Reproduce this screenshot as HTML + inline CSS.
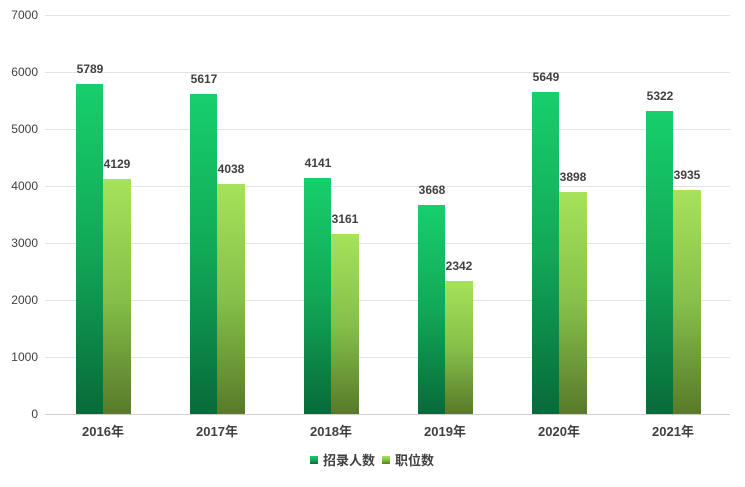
<!DOCTYPE html>
<html><head><meta charset="utf-8"><style>
body{margin:0;background:#fff;}
svg text{font-family:"Liberation Sans","Noto Sans CJK SC",sans-serif;fill:#404040;}
</style></head><body>
<svg width="745" height="482" viewBox="0 0 745 482" xmlns="http://www.w3.org/2000/svg">
<defs>
<linearGradient id="g1" x1="0" y1="0" x2="0" y2="1"><stop offset="0" stop-color="#17cf6c"/><stop offset="0.5" stop-color="#12a857"/><stop offset="1" stop-color="#086a3a"/></linearGradient>
<linearGradient id="g2" x1="0" y1="0" x2="0" y2="1"><stop offset="0" stop-color="#a6e25a"/><stop offset="0.5" stop-color="#86c04a"/><stop offset="1" stop-color="#587a2a"/></linearGradient>
</defs>
<g stroke="#e3e3e3" stroke-width="1">
<line x1="45" y1="15.5" x2="730" y2="15.5"/><line x1="45" y1="72.5" x2="730" y2="72.5"/><line x1="45" y1="129.5" x2="730" y2="129.5"/><line x1="45" y1="186.5" x2="730" y2="186.5"/><line x1="45" y1="243.5" x2="730" y2="243.5"/><line x1="45" y1="300.5" x2="730" y2="300.5"/><line x1="45" y1="357.5" x2="730" y2="357.5"/>
</g>
<line x1="45" y1="414.5" x2="730" y2="414.5" stroke="#d0d0d0"/>
<g font-size="12" text-anchor="end">
<text x="38" y="19">7000</text><text x="38" y="76">6000</text><text x="38" y="133">5000</text><text x="38" y="190">4000</text><text x="38" y="247">3000</text><text x="38" y="304">2000</text><text x="38" y="361">1000</text><text x="38" y="418">0</text>
</g>
<g id="bars"></g>
<g font-size="12" font-weight="bold" text-anchor="middle">
<rect x="76" y="84" width="27" height="330" fill="url(#g1)"/><rect x="103" y="179" width="28" height="235" fill="url(#g2)"/>
<text x="90" y="73">5789</text><text x="117" y="168">4129</text>
<rect x="190" y="94" width="27" height="320" fill="url(#g1)"/><rect x="217" y="184" width="28" height="230" fill="url(#g2)"/>
<text x="204" y="83">5617</text><text x="231" y="173">4038</text>
<rect x="304" y="178" width="27" height="236" fill="url(#g1)"/><rect x="331" y="234" width="28" height="180" fill="url(#g2)"/>
<text x="318" y="167">4141</text><text x="345" y="223">3161</text>
<rect x="418" y="205" width="27" height="209" fill="url(#g1)"/><rect x="445" y="281" width="28" height="133" fill="url(#g2)"/>
<text x="432" y="194">3668</text><text x="459" y="270">2342</text>
<rect x="532" y="92" width="27" height="322" fill="url(#g1)"/><rect x="559" y="192" width="28" height="222" fill="url(#g2)"/>
<text x="546" y="81">5649</text><text x="573" y="181">3898</text>
<rect x="646" y="111" width="27" height="303" fill="url(#g1)"/><rect x="673" y="190" width="28" height="224" fill="url(#g2)"/>
<text x="660" y="100">5322</text><text x="687" y="179">3935</text>
</g>
<g font-size="13" font-weight="bold" text-anchor="middle">
<text x="103" y="436">2016年</text><text x="217" y="436">2017年</text><text x="331" y="436">2018年</text><text x="445" y="436">2019年</text><text x="559" y="436">2020年</text><text x="673" y="436">2021年</text>
</g>
<rect x="310" y="456" width="8" height="8" fill="url(#g1)"/>
<text x="323" y="465" font-size="13" font-weight="bold">招录人数</text>
<rect x="382" y="456" width="8" height="8" fill="url(#g2)"/>
<text x="395" y="465" font-size="13" font-weight="bold">职位数</text>
</svg>
</body></html>
